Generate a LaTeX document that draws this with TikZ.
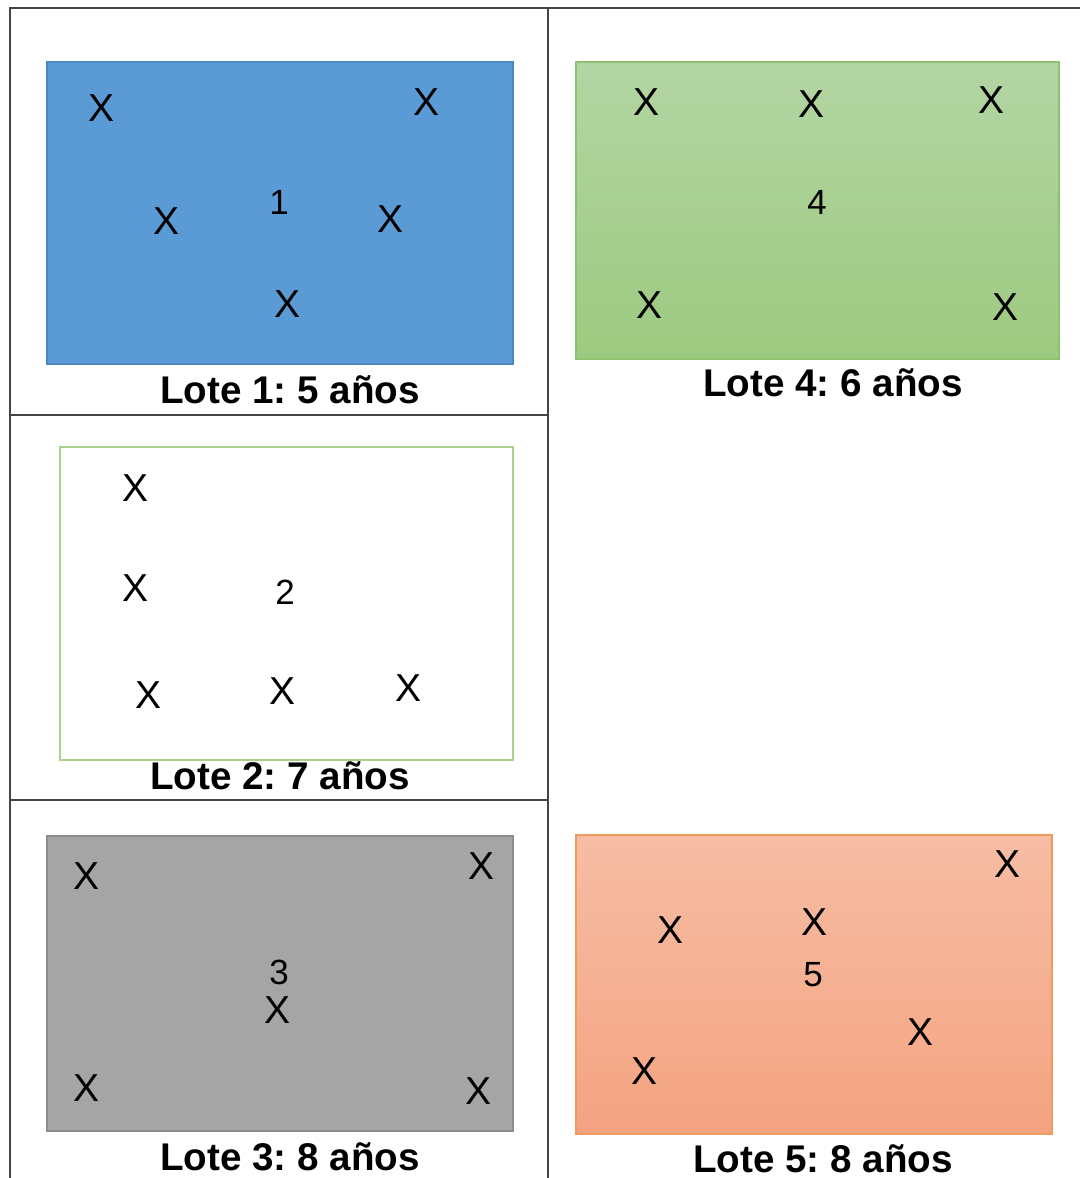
\documentclass[tikz,border=0pt]{standalone}
\usepackage{fontspec}
\setmainfont{Liberation Sans}
\frenchspacing
\definecolor{frameC}{HTML}{454545}
\definecolor{blueF}{HTML}{5B9BD5}
\definecolor{blueD}{HTML}{4A89C6}
\definecolor{greenT}{HTML}{B3D5A3}
\definecolor{greenB}{HTML}{9DCA80}
\definecolor{greenD}{HTML}{8DC26F}
\definecolor{greenL}{HTML}{A9D18E}
\definecolor{grayF}{HTML}{A5A5A5}
\definecolor{grayD}{HTML}{8C8C8C}
\definecolor{orT}{HTML}{F6BDA4}
\definecolor{orB}{HTML}{F4A381}
\definecolor{orD}{HTML}{F19A60}
\tikzset{
  frameline/.style={draw=frameC, line width=1.4pt},
  xmark/.style={inner sep=0pt, font=\fontsize{19.5}{20}\selectfont},
  lotnum/.style={inner sep=0pt, font=\fontsize{17.5}{18}\selectfont},
  lotlabel/.style={inner sep=0pt, font=\fontsize{19.3}{20}\selectfont\bfseries},
}
\begin{document}
\begin{tikzpicture}[x=0.5pt, y=-0.5pt]
\useasboundingbox (0,0) rectangle (1080,1178);
% frame
\draw[frameline] (1080,8) -- (10,8) -- (10,1178);
\draw[frameline] (548,8) -- (548,1178);
\draw[frameline] (10,415) -- (548,415);
\draw[frameline] (10,800) -- (548,800);
% plots
\draw[fill=blueF, draw=blueD, line width=1pt] (47,62) rectangle (513,364);
\draw[top color=greenT, bottom color=greenB, draw=greenD, line width=1pt] (576,62) rectangle (1059,359);
\draw[fill=white, draw=greenL, line width=1.2pt] (60,447) rectangle (513,760);
\draw[fill=grayF, draw=grayD, line width=1pt] (47,836) rectangle (513,1131);
\draw[top color=orT, bottom color=orB, draw=orD, line width=1pt] (576,835) rectangle (1052,1134);
% Lote 1
\node[xmark] (a1) at (102,108) {X};
\node[xmark] (a2) at (427,102) {X};
\node[xmark] (a3) at (167,221) {X};
\node[xmark] (a4) at (391,219) {X};
\node[xmark] (a5) at (288,304) {X};
\node[lotnum] (n1) at (279,202) {1};
\node[lotlabel] (l1) at (290,390) {Lote 1: 5 años};
% Lote 4
\node[xmark] (d1) at (646,102) {X};
\node[xmark] (d2) at (811,104) {X};
\node[xmark] (d3) at (991,100) {X};
\node[xmark] (d4) at (649,305) {X};
\node[xmark] (d5) at (1005,307) {X};
\node[lotnum] (n4) at (817,202) {4};
\node[lotlabel] (l4) at (833,383) {Lote 4: 6 años};
% Lote 2
\node[xmark] (b1) at (136,488) {X};
\node[xmark] (b2) at (136,588) {X};
\node[xmark] (b3) at (149,695) {X};
\node[xmark] (b4) at (283,691) {X};
\node[xmark] (b5) at (409,688) {X};
\node[lotnum] (n2) at (285,592) {2};
\node[lotlabel] (l2) at (280,776) {Lote 2: 7 años};
% Lote 3
\node[xmark] (c1) at (87,876) {X};
\node[xmark] (c2) at (481,866) {X};
\node[xmark] (c3) at (278,1010) {X};
\node[xmark] (c4) at (87,1088) {X};
\node[xmark] (c5) at (479,1091) {X};
\node[lotnum] (n3) at (279,972) {3};
\node[lotlabel] (l3) at (290,1157) {Lote 3: 8 años};
% Lote 5
\node[xmark] (e1) at (1007,864) {X};
\node[xmark] (e2) at (670,930) {X};
\node[xmark] (e3) at (814,922) {X};
\node[xmark] (e4) at (920,1032) {X};
\node[xmark] (e5) at (644,1071) {X};
\node[lotnum] (n5) at (813,975) {5};
\node[lotlabel] (l5) at (823,1159) {Lote 5: 8 años};
\end{tikzpicture}
\end{document}
